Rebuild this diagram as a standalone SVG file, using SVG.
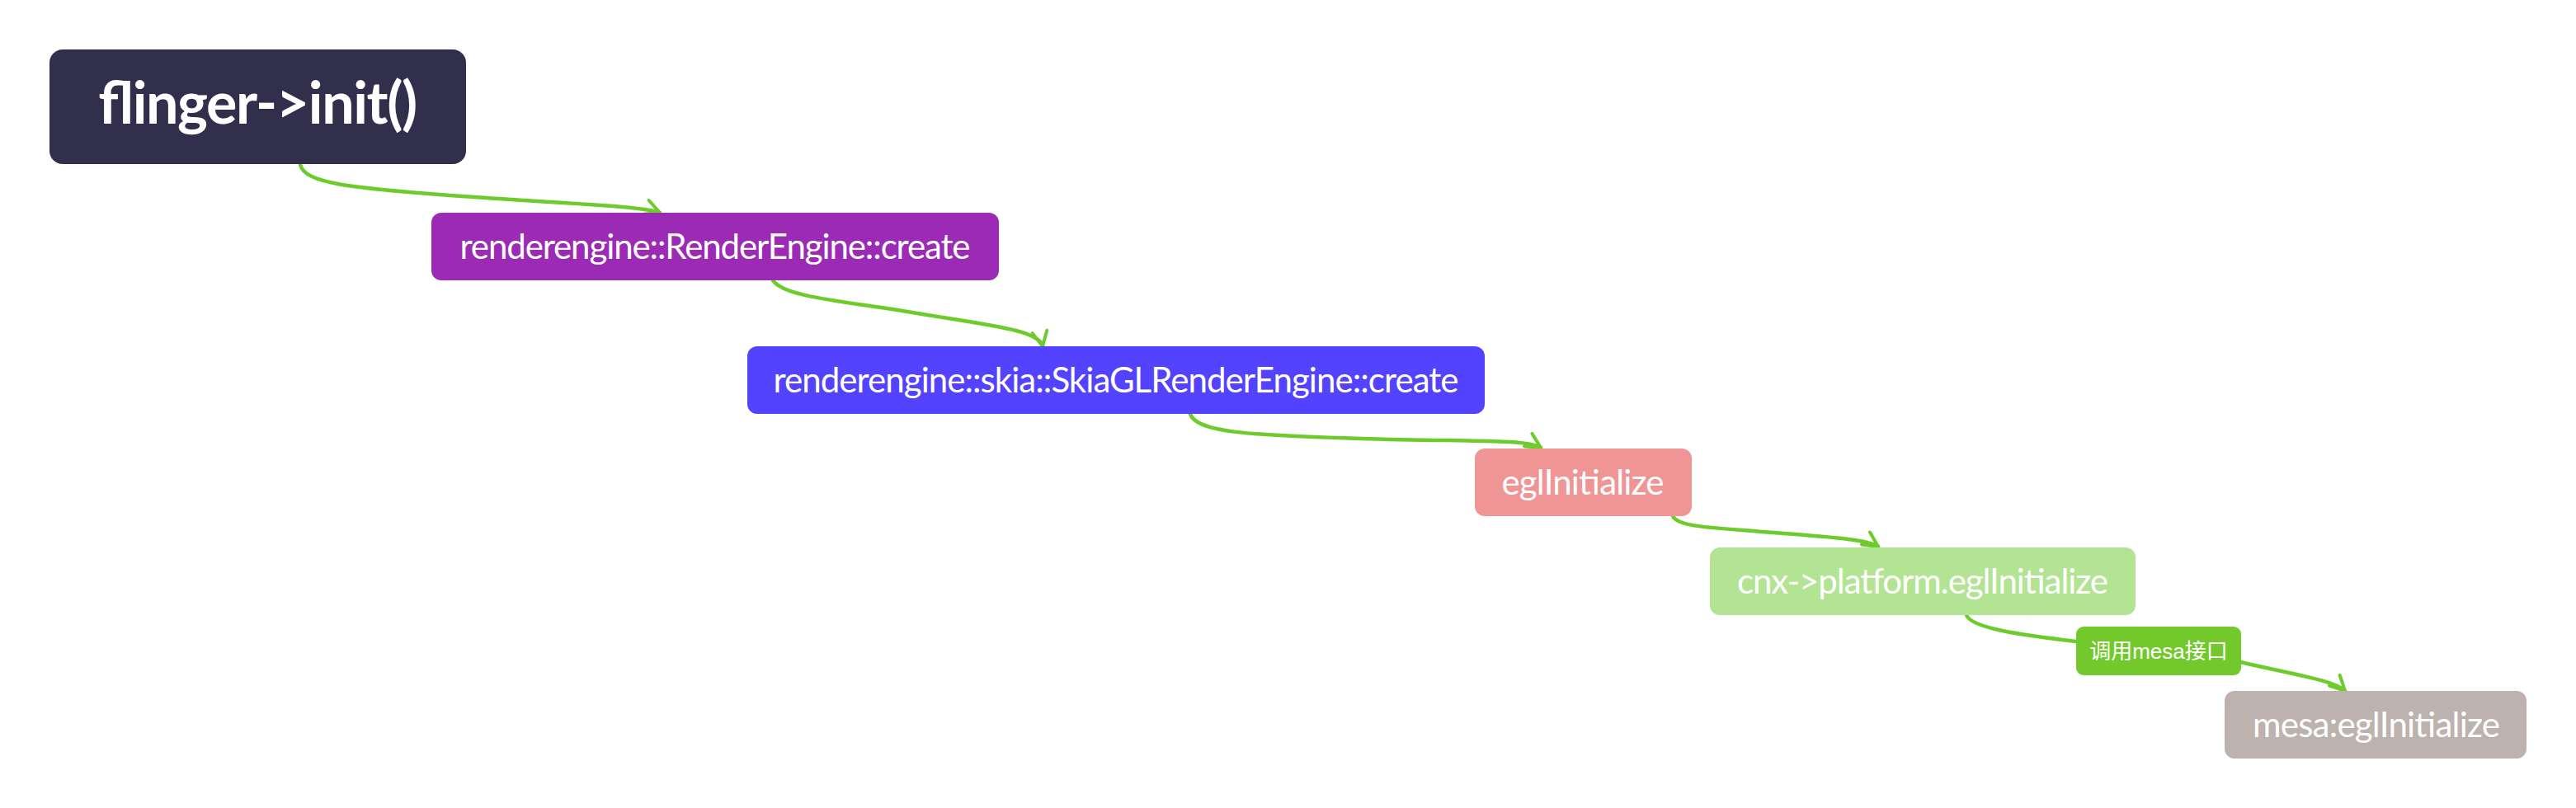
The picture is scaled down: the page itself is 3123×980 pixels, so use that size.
<svg xmlns="http://www.w3.org/2000/svg" width="3123" height="980" viewBox="0 0 3123 980">
<defs>
<style>
.n text{font-family:Lato,"Liberation Sans",sans-serif;fill:#ffffff;text-anchor:middle;font-size:42px}
.c path.l{fill:none;stroke:#6dcb2c;stroke-width:4.5;stroke-linecap:round}
</style>
<marker id="ah" viewBox="0 0 22 22" refX="20" refY="11" markerWidth="22" markerHeight="22" markerUnits="userSpaceOnUse" orient="auto">
<path d="M2,2 L20,11 L2,20" fill="none" stroke="#6dcb2c" stroke-width="4" stroke-linecap="round" stroke-linejoin="round"/>
</marker>
</defs>
<rect width="3123" height="980" fill="#ffffff"/>
<g id="connectors" class="c">
<path class="l" d="M364,200 C370,222 420,228 560,238 C700,248 780,250 800,258" marker-end="url(#ah)"/>
<path class="l" d="M937,340 C950,360 1020,365 1100,378 C1200,395 1260,400 1264,420" marker-end="url(#ah)"/>
<path class="l" d="M1443,502 C1450,525 1520,528 1650,532 C1780,536 1850,532 1868,543" marker-end="url(#ah)"/>
<path class="l" d="M2028,626 C2035,640 2080,640 2150,646 C2230,652 2265,655 2277,663" marker-end="url(#ah)"/>
<path class="l" d="M2384,746 C2390,762 2450,770 2517,778"/>
<path class="l" d="M2716,803 C2780,818 2830,825 2843,838" marker-end="url(#ah)"/>
</g>
<g id="root" class="n">
<rect x="60" y="60" width="505" height="139" rx="16" fill="#312f4c"/>
<text x="312" y="150" style="font-size:70px;font-weight:bold" textLength="387">flinger-&gt;init()</text>
</g>
<g id="renderengine" class="n">
<rect x="523" y="258" width="688" height="82" rx="12" fill="#9b2bb5"/>
<text x="867" y="314" textLength="619">renderengine::RenderEngine::create</text>
</g>
<g id="skia" class="n">
<rect x="906" y="420" width="894" height="82" rx="12" fill="#5443fe"/>
<text x="1353" y="476" textLength="831">renderengine::skia::SkiaGLRenderEngine::create</text>
</g>
<g id="egl" class="n">
<rect x="1788" y="544" width="263" height="82" rx="12" fill="#f09595"/>
<text x="1919" y="600" textLength="197">eglInitialize</text>
</g>
<g id="cnx" class="n">
<rect x="2073" y="664" width="516" height="82" rx="12" fill="#b2e493"/>
<text x="2331" y="720" textLength="450">cnx-&gt;platform.eglInitialize</text>
</g>
<g id="label" class="n">
<rect x="2517" y="760" width="200" height="59" rx="9" fill="#73c92c"/>
<text x="2617" y="799" style="font-family:'Liberation Sans','Noto Sans CJK SC',sans-serif;font-size:26px">调用mesa接口</text>
</g>
<g id="mesa" class="n">
<rect x="2697" y="838" width="366" height="82" rx="12" fill="#bdb2ae"/>
<text x="2881" y="894" textLength="300">mesa:eglInitialize</text>
</g>
</svg>
